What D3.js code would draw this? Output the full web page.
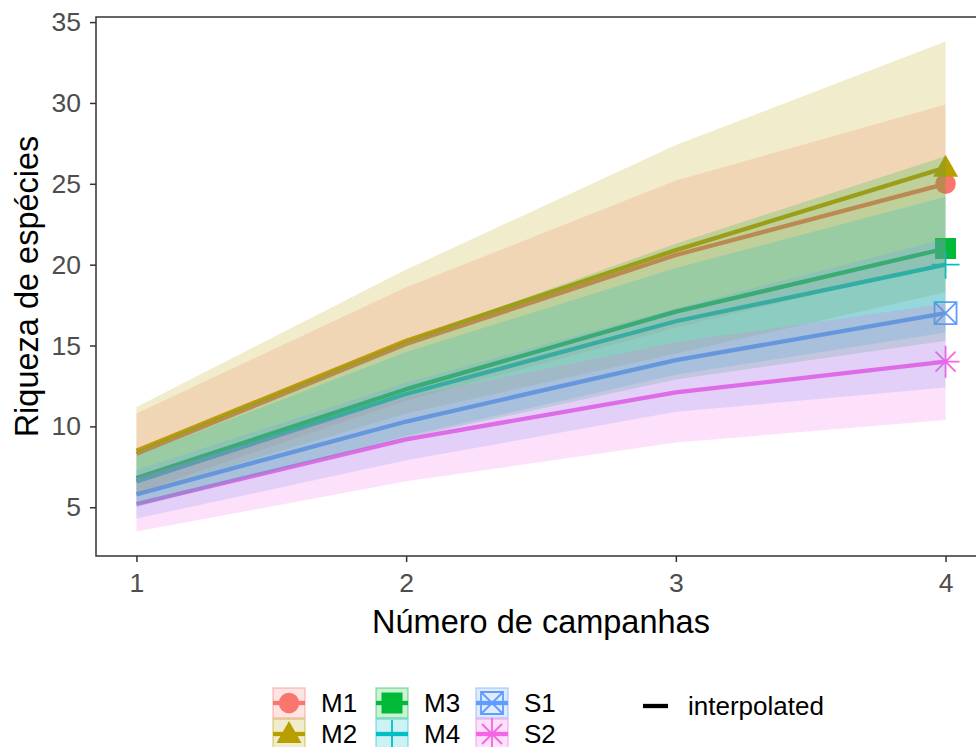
<!DOCTYPE html>
<html>
<head>
<meta charset="utf-8">
<script src="https://cdn.jsdelivr.net/npm/d3@7"></script>
<style>
  html, body { margin: 0; padding: 0; background: #fff; }
  svg { display: block; font-family: "Liberation Sans", Arial, sans-serif; }
</style>
</head>
<body>
<svg id="chart" width="976" height="747"></svg>
<script>
// ---- data ----
const campaigns = [1, 2, 3, 4];
const sites = ["M1", "M2", "M3", "M4", "S1", "S2"];
const siteColors = ["#F8766D", "#B79F00", "#00BA38", "#00BFC4", "#619CFF", "#F564E3"];
const siteShapes = ["circle", "triangle", "square", "plus", "squareX", "asterisk"];
// estimated richness (interpolated) per site, at campaigns 1..4
const estimate = [
  [8.3, 15.1, 20.6, 25.0],
  [8.5, 15.3, 20.9, 26.0],
  [6.8, 12.3, 17.1, 21.0],
  [6.6, 12.0, 16.5, 20.0],
  [5.8, 10.3, 14.1, 17.0],
  [5.2, 9.2, 12.1, 14.0]
];
const lowerCI = [
  [5.9, 11.6, 16.1, 20.1],
  [5.8, 10.8, 14.5, 18.3],
  [5.1, 9.3, 12.9, 15.3],
  [5.0, 9.4, 13.2, 15.8],
  [4.3, 7.9, 10.9, 12.4],
  [3.5, 6.6, 9.0, 10.4]
];
const upperCI = [
  [10.8, 18.6, 25.2, 29.9],
  [11.2, 19.7, 27.4, 33.8],
  [8.5, 15.3, 21.3, 26.7],
  [8.2, 14.6, 19.8, 24.2],
  [7.3, 12.7, 17.3, 21.6],
  [6.9, 11.8, 15.2, 17.6]
];
const yTicks = [5, 10, 15, 20, 25, 30, 35];
const xTicks = [1, 2, 3, 4];
const xTitle = "Número de campanhas";
const yTitle = "Riqueza de espécies";
const methodLabel = "interpolated";

// ---- layout ----
const svg = d3.select("#chart");
const panel = { left: 96, right: 986, top: 17, bottom: 556 };

const xMin = d3.min(campaigns), xMax = d3.max(campaigns);
const xPad = (xMax - xMin) * 0.05;
const x = d3.scaleLinear().domain([xMin - xPad, xMax + xPad]).range([panel.left, panel.right]);

const yLo = d3.min(lowerCI.flat()), yHi = d3.max(upperCI.flat());
const yPad = (yHi - yLo) * 0.05;
const y = d3.scaleLinear().domain([yLo - yPad, yHi + yPad]).range([panel.bottom, panel.top]);

// symbol drawing
function shapePath(kind) {
  switch (kind) {
    case "circle": return { d: d3.symbol(d3.symbolCircle, 330)(), filled: true };
    case "triangle": return { d: "M0,-13L12.5,9L-12.5,9Z", filled: true };
    case "square": return { d: d3.symbol(d3.symbolSquare, 441)(), filled: true };
    case "plus": return { d: "M-14,0H14M0,-14V14", filled: false };
    case "squareX": return { d: "M-11,-11H11V11H-11ZM-11,-11L11,11M11,-11L-11,11", filled: false };
    case "asterisk": return { d: "M-14,0H14M0,-16V16M-10,-10L10,10M10,-10L-10,10", filled: false };
  }
}
function drawShape(g, kind, color, cx, cy) {
  const s = shapePath(kind);
  g.append("path")
    .attr("d", s.d)
    .attr("transform", `translate(${cx},${cy})`)
    .attr("fill", s.filled ? color : "none")
    .attr("stroke", s.filled ? "none" : color)
    .attr("stroke-width", 1.8);
}

const clipId = "panelClip";
svg.append("defs").append("clipPath").attr("id", clipId)
  .append("rect").attr("x", panel.left).attr("y", panel.top)
  .attr("width", panel.right - panel.left).attr("height", panel.bottom - panel.top);

const plot = svg.append("g").attr("clip-path", `url(#${clipId})`);

// points (observed) first
const gPts = plot.append("g");
sites.forEach((s, i) => {
  const last = campaigns.length - 1;
  drawShape(gPts, siteShapes[i], siteColors[i], x(campaigns[last]), y(estimate[i][last]));
});

// lines
const line = d3.line().x((d, j) => x(campaigns[j])).y(d => y(d));
const gLines = plot.append("g");
sites.forEach((s, i) => {
  gLines.append("path")
    .attr("d", line(estimate[i]))
    .attr("fill", "none")
    .attr("stroke", siteColors[i])
    .attr("stroke-width", 4.3)
    .attr("stroke-linejoin", "round");
});

// ribbons on top
const area = d3.area()
  .x((d, j) => x(campaigns[j]))
  .y0(d => y(d[0]))
  .y1(d => y(d[1]));
const gRib = plot.append("g");
sites.forEach((s, i) => {
  const pts = campaigns.map((c, j) => [lowerCI[i][j], upperCI[i][j]]);
  gRib.append("path")
    .attr("d", area(pts))
    .attr("fill", siteColors[i])
    .attr("fill-opacity", 0.2)
    .attr("stroke", "none");
});

// panel border
svg.append("path")
  .attr("d", `M${panel.right},${panel.top}H${panel.left}V${panel.bottom}H${panel.right}`)
  .attr("fill", "none").attr("stroke", "#333333").attr("stroke-width", 1.5);

// axes
const yAxis = svg.append("g").attr("transform", `translate(${panel.left},0)`)
  .call(d3.axisLeft(y).tickValues(yTicks).tickSize(6).tickPadding(9));
const xAxis = svg.append("g").attr("transform", `translate(0,${panel.bottom})`)
  .call(d3.axisBottom(x).tickValues(xTicks).tickSize(6).tickPadding(11).tickFormat(d3.format("d")));
[yAxis, xAxis].forEach(a => {
  a.select(".domain").remove();
  a.selectAll(".tick line").attr("stroke", "#333333").attr("stroke-width", 1.5);
  a.selectAll(".tick text").attr("fill", "#4D4D4D").style("font-size", "26.5px")
    .style("font-family", "'Liberation Sans', Arial, sans-serif");
});

// axis titles
svg.append("text")
  .attr("x", (panel.left + panel.right) / 2).attr("y", 633)
  .attr("text-anchor", "middle").style("font-size", "32.5px").attr("fill", "#000")
  .text(xTitle);
svg.append("text")
  .attr("transform", `translate(38,${(panel.top + panel.bottom) / 2}) rotate(-90)`)
  .attr("text-anchor", "middle").style("font-size", "32.5px").attr("fill", "#000")
  .text(yTitle);

// legend
const leg = svg.append("g");
const keyW = 32, keyH = 30;
const colX = [273, 376, 476];
const rowY = [688, 719];
sites.forEach((s, i) => {
  const col = Math.floor(i / 2), row = i % 2;
  const kx = colX[col], ky = rowY[row];
  const g = leg.append("g");
  drawShape(g, siteShapes[i], siteColors[i], kx + keyW / 2, ky + keyH / 2);
  g.append("line")
    .attr("x1", kx).attr("x2", kx + keyW)
    .attr("y1", ky + keyH / 2).attr("y2", ky + keyH / 2)
    .attr("stroke", siteColors[i]).attr("stroke-width", 4.3);
  g.append("rect")
    .attr("x", kx).attr("y", ky).attr("width", keyW).attr("height", keyH)
    .attr("fill", siteColors[i]).attr("fill-opacity", 0.2)
    .attr("stroke", siteColors[i]).attr("stroke-opacity", 0.4).attr("stroke-width", 1.5);
  g.append("text")
    .attr("x", kx + keyW + 16).attr("y", ky + keyH / 2 + 9)
    .style("font-size", "26px").attr("fill", "#000")
    .text(s);
});
leg.append("line")
  .attr("x1", 643).attr("x2", 668).attr("y1", 706).attr("y2", 706)
  .attr("stroke", "#000").attr("stroke-width", 4.3);
leg.append("text")
  .attr("x", 688).attr("y", 715)
  .style("font-size", "26px").attr("fill", "#000")
  .text(methodLabel);
</script>
</body>
</html>
